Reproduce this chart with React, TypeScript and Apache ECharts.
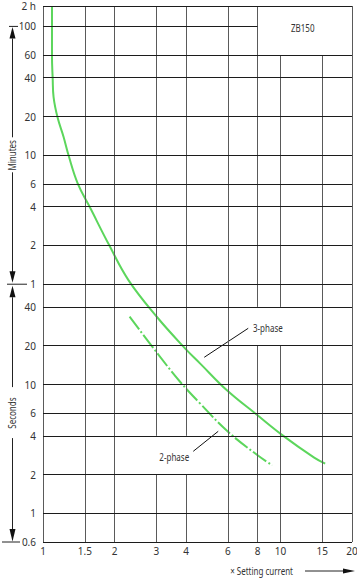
import React, { useEffect, useRef } from 'react';
import * as echarts from 'echarts';

// ---- Axis ticks (x: multiples of setting current, y: time in seconds) ----
const xTickValues = [1, 1.5, 2, 3, 4, 6, 8, 10, 15, 20];
const xTickLabels = ['1', '1.5', '2', '3', '4', '6', '8', '10', '15', '20'];
// top border of the reference is labelled "2 h"; its scale puts that border at ~8640 s
const yTickValues = [8640, 6000, 3600, 2400, 1200, 600, 360, 240, 120, 60, 40, 20, 10, 6, 4, 2, 1, 0.6];
const yTickLabels = ['2 h', '100', '60', '40', '20', '10', '6', '4', '2', '1', '40', '20', '10', '6', '4', '2', '1', '0.6'];

// gridline gaps (white areas behind labels), in data units
const verticalGaps: Record<string, number[][]> = {
  '3': [[2, 4]],
  '4': [[2, 4]],
  '8': [[20, 40]],
  '10': [[20, 40], [3600, 8640]],
  '15': [[3600, 8640]],
};
const horizontalGaps: Record<string, number[][]> = {
  '6000': [[8, 20]],
};

// ---- Curves (x = multiple of setting current, y = seconds) ----
const threePhaseX = [1.091, 1.091, 1.0985, 1.108, 1.152, 1.221, 1.281, 1.401, 1.574, 1.901, 2.293, 3.019, 3.972, 4.592, 5.949, 7.957, 10.14, 13.86, 15.42];
const threePhaseY = [8640, 3517, 2362, 1700, 1177, 832, 600, 362, 238, 120.2, 64.3, 33.4, 19.0, 14.53, 9.02, 5.82, 4.07, 2.71, 2.435];
const twoPhaseX = [2.315, 3.019, 3.784, 4.592, 5.983, 7.957, 9.227];
const twoPhaseY = [33.6, 17.62, 10.46, 7.11, 4.335, 2.849, 2.362];

// ---- Annotations ----
const threePhaseLeaderX = [7.313, 4.774];
const threePhaseLeaderY = [27.3, 16.26];
const threePhaseLabelPos = [7.652, 27.3];
const twoPhaseLeaderX = [4.292, 5.467];
const twoPhaseLeaderY = [3.032, 4.335];
const twoPhaseLabelPos = [3.57, 2.725];

const X_MIN = 1;
const X_MAX = 20;
const Y_MIN = 0.6;
const Y_MAX = 8640;

const FONT = "'Noto Sans', sans-serif";
const TEXT = '#333';
const GREEN = '#5cd65c';
const CONDENSE = 0.8;

function segments(lo: number, hi: number, gaps: number[][] | undefined): number[][] {
  const out: number[][] = [];
  let start = lo;
  (gaps || []).slice().sort((a, b) => a[0] - b[0]).forEach(([g0, g1]) => {
    if (g0 > start) out.push([start, g0]);
    start = Math.max(start, g1);
  });
  if (start < hi) out.push([start, hi]);
  return out;
}

export default function App() {
  const ref = useRef<HTMLDivElement>(null);

  useEffect(() => {
    if (!ref.current) return;
    const chart = echarts.init(ref.current, null, { renderer: 'svg' });

    const vData: any[] = [];
    xTickValues.forEach((x, i) => {
      segments(Y_MIN, Y_MAX, verticalGaps[String(x)]).forEach((seg, k) => {
        vData.push([
          {
            coord: [x, seg[0]],
            name: k === 0 ? xTickLabels[i] : '',
            label: k === 0 ? { show: true, formatter: xTickLabels[i] } : { show: false },
          },
          { coord: [x, seg[1]] },
        ]);
      });
    });
    const hData: any[] = [];
    yTickValues.forEach((y, i) => {
      segments(X_MIN, X_MAX, horizontalGaps[String(y)]).forEach((seg, k) => {
        hData.push([
          {
            coord: [seg[0], y],
            name: k === 0 ? yTickLabels[i] : '',
            label: k === 0 ? { show: true, formatter: yTickLabels[i] } : { show: false },
          },
          { coord: [seg[1], y] },
        ]);
      });
    });

    const labelStyle = { color: TEXT, fontSize: 10, fontFamily: FONT };

    chart.setOption({
      animation: false,
      backgroundColor: '#fff',
      grid: { left: 43, right: 5, top: 6, bottom: 36, show: false },
      xAxis: {
        type: 'log', logBase: 10, min: X_MIN, max: X_MAX,
        axisLine: { show: false }, axisTick: { show: false }, axisLabel: { show: false }, splitLine: { show: false },
      },
      yAxis: {
        type: 'log', logBase: 10, min: Y_MIN, max: Y_MAX,
        axisLine: { show: false }, axisTick: { show: false }, axisLabel: { show: false }, splitLine: { show: false },
      },
      series: [
        {
          name: 'vgrid', type: 'line', data: [], silent: true, clip: false, z: 1,
          markLine: {
            silent: true, symbol: ['none', 'none'], animation: false,
            lineStyle: { color: '#5a5a5a', width: 1, type: 'solid' },
            label: { position: 'start', distance: 4, ...labelStyle },
            emphasis: { disabled: true },
            data: vData,
          },
        },
        {
          name: 'hgrid', type: 'line', data: [], silent: true, clip: false, z: 1,
          markLine: {
            silent: true, symbol: ['none', 'none'], animation: false,
            lineStyle: { color: '#1c1c1c', width: 1, type: 'solid' },
            label: { position: 'start', distance: 7, ...labelStyle },
            emphasis: { disabled: true },
            data: hData,
          },
        },
        {
          name: '3-phase', type: 'line', z: 3, silent: true, showSymbol: false, smooth: 0.4,
          lineStyle: { color: GREEN, width: 2 },
          data: threePhaseX.map((x, i) => [x, threePhaseY[i]]),
        },
        {
          name: '2-phase', type: 'line', z: 3, silent: true, showSymbol: false, smooth: 0.4,
          lineStyle: { color: GREEN, width: 2, type: [16, 2.5, 2, 2.5] },
          data: twoPhaseX.map((x, i) => [x, twoPhaseY[i]]),
        },
        {
          name: '3-phase leader', type: 'line', z: 4, silent: true, showSymbol: false,
          lineStyle: { color: '#111', width: 1 },
          data: threePhaseLeaderX.map((x, i) => [x, threePhaseLeaderY[i]]),
        },
        {
          name: '2-phase leader', type: 'line', z: 4, silent: true, showSymbol: false,
          lineStyle: { color: '#111', width: 1 },
          data: twoPhaseLeaderX.map((x, i) => [x, twoPhaseLeaderY[i]]),
        },
      ],
    });

    const toPx = (x: number, y: number) => chart.convertToPixel({ gridIndex: 0 }, [x, y]) as number[];
    const px = (x: number) => toPx(x, 1)[0];
    const py = (y: number) => toPx(1, y)[1];

    const yTop = py(6000);
    const yMid = py(60);
    const yBot = py(Y_MIN);
    const minutesMid = (yTop + yMid) / 2;
    const secondsMid = (yMid + yBot) / 2;
    const ax = 12.5;
    const stroke = { stroke: '#222', lineWidth: 1 };
    const xRight = px(X_MAX);
    const yTitle = yBot + 29;

    const lineEl = (x1: number, y1: number, x2: number, y2: number) => ({
      type: 'line', silent: true, shape: { x1, y1, x2, y2 }, style: stroke,
    });
    const tri = (pts: number[][]) => ({ type: 'polygon', silent: true, shape: { points: pts }, style: { fill: '#111' } });
    const word = (text: string, x: number, y: number, align: string, rotation = 0) => ({
      type: 'text', silent: true, x, y, rotation, scaleX: CONDENSE, z: 10,
      style: { text, fill: TEXT, font: `10px ${FONT}`, textAlign: align, textVerticalAlign: 'middle' },
    });

    const p3 = toPx(threePhaseLabelPos[0], threePhaseLabelPos[1]);
    const p2 = toPx(twoPhaseLabelPos[0], twoPhaseLabelPos[1]);

    chart.setOption({
      graphic: [
        lineEl(9, yTop, 18, yTop),
        tri([[ax, yTop + 0.5], [ax - 3, yTop + 12], [ax + 3, yTop + 12]]),
        lineEl(ax, yTop + 12, ax, minutesMid - 18),
        word('Minutes', ax - 0.5, minutesMid, 'center', Math.PI / 2),
        lineEl(ax, minutesMid + 17, ax, yMid - 12),
        tri([[ax, yMid - 1.5], [ax - 3, yMid - 13], [ax + 3, yMid - 13]]),
        lineEl(7, yMid, 27, yMid),
        tri([[ax, yMid + 1.5], [ax - 3, yMid + 13], [ax + 3, yMid + 13]]),
        lineEl(ax, yMid + 13, ax, secondsMid - 26),
        word('Seconds', ax - 0.5, secondsMid, 'center', Math.PI / 2),
        lineEl(ax, secondsMid + 25, ax, yBot - 12),
        tri([[ax, yBot - 0.5], [ax - 3, yBot - 13], [ax + 3, yBot - 13]]),
        lineEl(2, yBot, 20, yBot),
        word('× Setting current', xRight - 59, yTitle, 'right'),
        lineEl(xRight - 47, yTitle, xRight - 8, yTitle),
        tri([[xRight + 3, yTitle], [xRight - 9, yTitle - 2.5], [xRight - 9, yTitle + 2.5]]),
        word('ZB150', (px(8) + px(X_MAX)) / 2 - 2, (py(Y_MAX) + py(3600)) / 2 - 2, 'center'),
        word('3-phase', p3[0], p3[1], 'left'),
        word('2-phase', p2[0], p2[1], 'center'),
      ],
    });

    return () => chart.dispose();
  }, []);

  return <div ref={ref} style={{ position: 'fixed', left: 0, top: 0, width: 357, height: 578, background: '#fff' }} />;
}
